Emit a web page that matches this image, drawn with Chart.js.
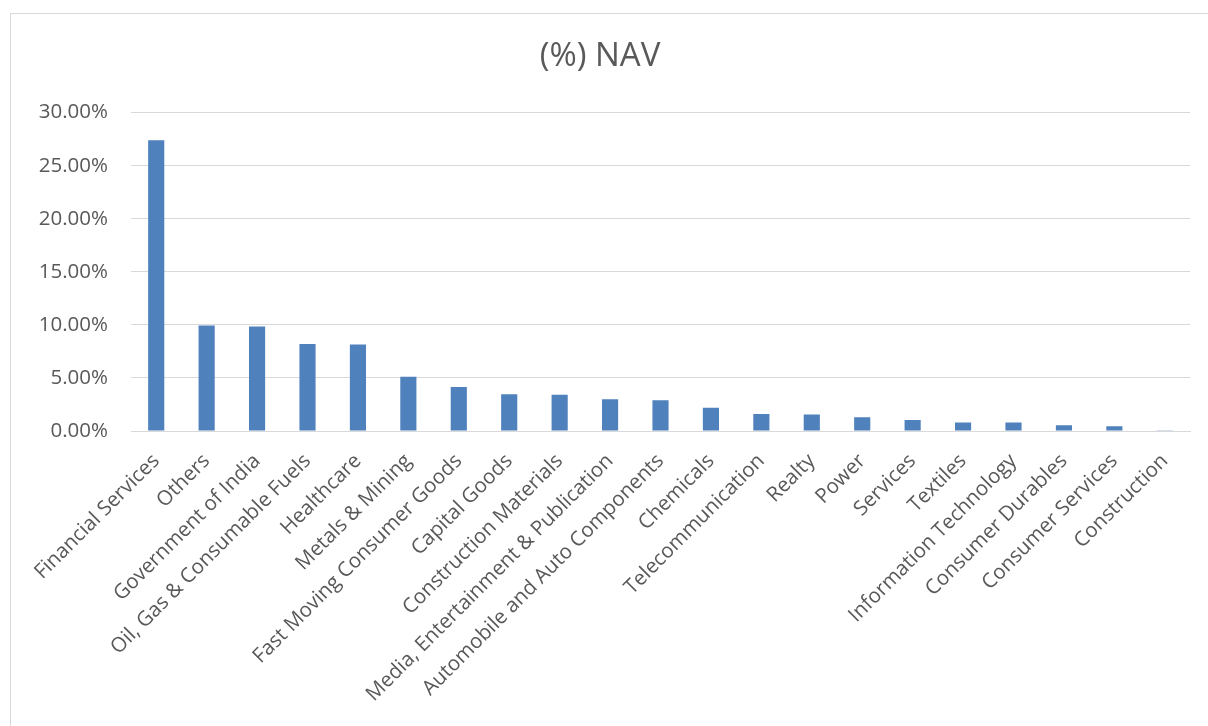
<!DOCTYPE html>
<html>
<head>
<meta charset="utf-8">
<script src="https://cdn.jsdelivr.net/npm/chart.js@4"></script>
<style>
	html, body { margin: 0; padding: 0; background: #fff; }
	.frame { position: absolute; left: 10px; top: 13px; width: 1300px; height: 800px; border: 1px solid #d9d9d9; }
	.wrap { position: absolute; left: 0; top: 0; width: 1208px; height: 726px; }
</style>
</head>
<body>
<div class="frame"></div>
<div class="wrap"><canvas id="nav"></canvas></div>
<script>
	// sectors, in the order shown
	const sectors = [
		'Financial Services', 'Others', 'Government of India', 'Oil, Gas & Consumable Fuels',
		'Healthcare', 'Metals & Mining', 'Fast Moving Consumer Goods', 'Capital Goods',
		'Construction Materials', 'Media, Entertainment & Publication', 'Automobile and Auto Components',
		'Chemicals', 'Telecommunication', 'Realty', 'Power', 'Services', 'Textiles',
		'Information Technology', 'Consumer Durables', 'Consumer Services', 'Construction'
	];

	// share of NAV (fraction)
	const navShare = [
		0.274, 0.0994, 0.0985, 0.082, 0.0815, 0.051, 0.0415, 0.0346,
		0.0342, 0.030, 0.029, 0.022, 0.016, 0.0155, 0.013, 0.0103, 0.008,
		0.008, 0.0055, 0.0045, 0.0002
	];

	const yTicks = [0, 0.05, 0.10, 0.15, 0.20, 0.25, 0.30];

	const textColor = '#595959';
	const gridColor = '#d9d9d9';
	const fontFamily = '"Open Sans", "Noto Sans", sans-serif';

	const ctx = document.getElementById('nav');
	const navChart = new Chart(ctx, {
		type: 'bar',
		data: {
			labels: sectors,
			datasets: [{
				label: '(%) NAV',
				data: navShare,
				backgroundColor: '#4f81bd',
				categoryPercentage: 1,
				barPercentage: 0.32
			}]
		},
		options: {
			responsive: true,
			maintainAspectRatio: false,
			animation: false,
			layout: {
				padding: { left: 10, right: 18, top: 20, bottom: 0 }
			},
			plugins: {
				legend: { display: false },
				tooltip: { enabled: false },
				title: {
					display: true,
					text: '(%) NAV',
					color: textColor,
					font: { family: fontFamily, size: 33, weight: 'normal', lineHeight: 1.2 },
					padding: { top: 17, bottom: 36 }
				}
			},
			scales: {
				x: {
					grid: { display: false, drawTicks: false },
					border: { color: gridColor, width: 1 },
					ticks: {
						color: textColor,
						font: { family: fontFamily, size: 20.5 },
						autoSkip: false,
						minRotation: 45,
						maxRotation: 45,
						padding: 18
					},
					afterFit: function (scale) {
						scale.height = 295;
					}
				},
				y: {
					min: 0,
					max: 0.30,
					grid: { color: gridColor, drawTicks: false },
					border: { display: false },
					afterBuildTicks: function (scale) {
						scale.ticks = yTicks.map(v => ({ value: v }));
					},
					ticks: {
						color: textColor,
						font: { family: fontFamily, size: 20.5 },
						padding: 23,
						callback: function (v) {
							return (v * 100).toFixed(2) + '%';
						}
					},
					afterFit: function (scale) {
						scale.width = 121;
					}
				}
			}
		}
	});
</script>
</body>
</html>
